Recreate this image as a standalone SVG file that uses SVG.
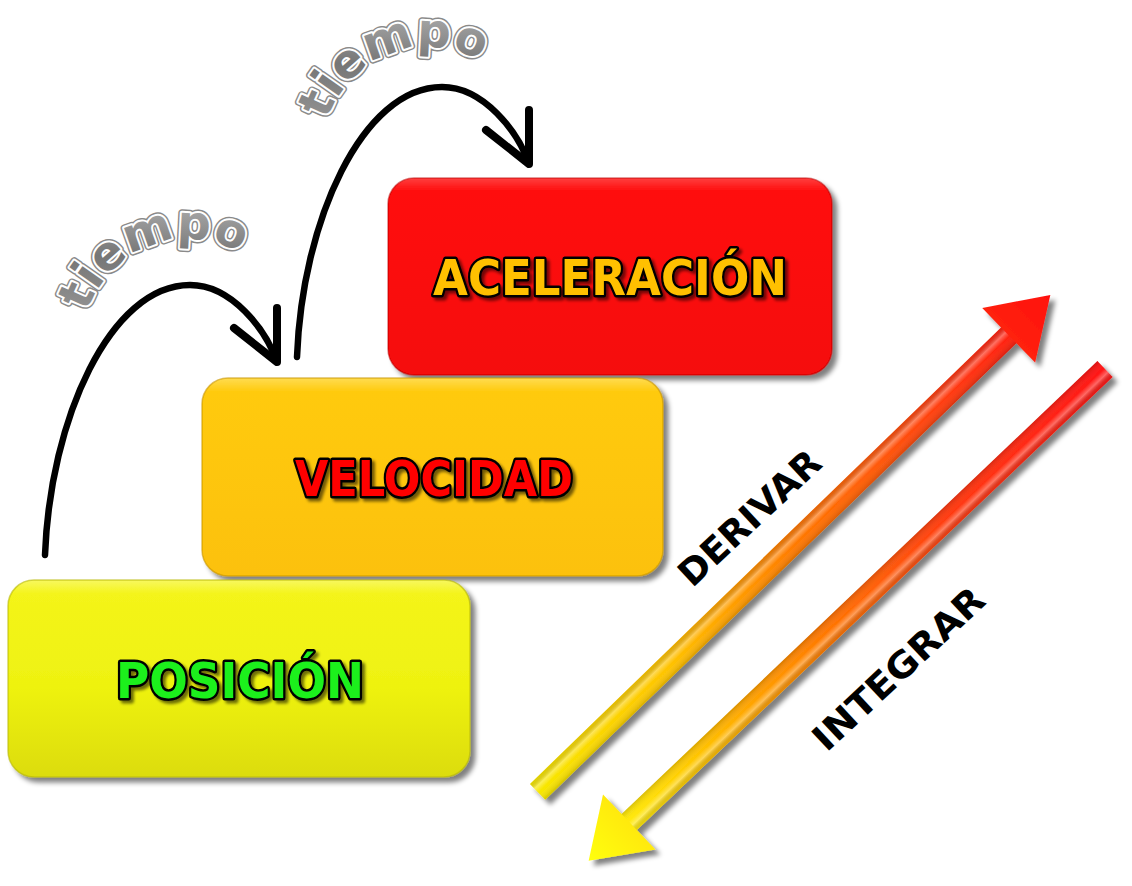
<svg xmlns="http://www.w3.org/2000/svg" width="1132" height="886" viewBox="0 0 1132 886">
<defs>
<style>
.box{stroke-width:1.5}
.lbl{font-family:"DejaVu Sans","Liberation Sans",sans-serif;font-weight:bold;font-size:50px;stroke:#000;stroke-width:5;stroke-linejoin:round;paint-order:stroke;text-anchor:middle}
.side{font-family:"DejaVu Sans","Liberation Sans",sans-serif;font-weight:bold;font-size:36px;fill:#000;text-anchor:middle}
.tie-o{font-family:"DejaVu Sans","Liberation Sans",sans-serif;font-weight:bold;font-size:47px;letter-spacing:0.5px;fill:none;stroke:#8a8a8a;stroke-width:7;stroke-linejoin:round}
.tie-i{font-family:"DejaVu Sans","Liberation Sans",sans-serif;font-weight:bold;font-size:47px;letter-spacing:0.5px;fill:url(#grayG);stroke:#fff;stroke-width:4;stroke-linejoin:round;paint-order:stroke}
.curve{fill:none;stroke:#000;stroke-width:6.5;stroke-linecap:round}
.head{fill:none;stroke:#000;stroke-width:8;stroke-linecap:round;stroke-linejoin:round}
</style>
<filter id="shadow" x="-10%" y="-10%" width="125%" height="130%">
<feGaussianBlur in="SourceAlpha" stdDeviation="2.5"/>
<feOffset dx="5" dy="5" result="o"/>
<feComponentTransfer><feFuncA type="linear" slope="0.5"/></feComponentTransfer>
<feMerge><feMergeNode/><feMergeNode in="SourceGraphic"/></feMerge>
</filter>
<filter id="tshadow" x="-10%" y="-20%" width="130%" height="150%">
<feGaussianBlur in="SourceAlpha" stdDeviation="1.5"/>
<feOffset dx="3" dy="3"/>
<feComponentTransfer><feFuncA type="linear" slope="0.55"/></feComponentTransfer>
<feMerge><feMergeNode/><feMergeNode in="SourceGraphic"/></feMerge>
</filter>
<linearGradient id="posG" x1="0" y1="0" x2="0" y2="1">
<stop offset="0" stop-color="#f8f860"/><stop offset="0.07" stop-color="#f4f41a"/><stop offset="0.55" stop-color="#eef210"/><stop offset="1" stop-color="#dcdc0e"/>
</linearGradient>
<linearGradient id="velG" x1="0" y1="0" x2="0" y2="1">
<stop offset="0" stop-color="#ffdc50"/><stop offset="0.07" stop-color="#ffca0c"/><stop offset="1" stop-color="#fcc108"/>
</linearGradient>
<linearGradient id="aceG" x1="0" y1="0" x2="0" y2="1">
<stop offset="0" stop-color="#ff4040"/><stop offset="0.07" stop-color="#ff0a0a"/><stop offset="1" stop-color="#f50808"/>
</linearGradient>
<linearGradient id="grayG" x1="0" y1="0" x2="0" y2="1">
<stop offset="0" stop-color="#b4b4b4"/><stop offset="0.5" stop-color="#767676"/><stop offset="1" stop-color="#959595"/>
</linearGradient>
<linearGradient id="derG" gradientUnits="userSpaceOnUse" x1="0" y1="0" x2="714" y2="0">
<stop offset="0" stop-color="#f8e800"/><stop offset="0.25" stop-color="#ffc400"/><stop offset="0.5" stop-color="#ff7a00"/><stop offset="0.8" stop-color="#ff3a10"/><stop offset="1" stop-color="#ff1010"/>
</linearGradient>
<linearGradient id="intG" gradientUnits="userSpaceOnUse" x1="0" y1="0" x2="713" y2="0">
<stop offset="0" stop-color="#ff1414"/><stop offset="0.3" stop-color="#ff3a10"/><stop offset="0.55" stop-color="#ff7a00"/><stop offset="0.8" stop-color="#ffc800"/><stop offset="1" stop-color="#ffff10"/>
</linearGradient>
<linearGradient id="cylG" gradientUnits="userSpaceOnUse" x1="0" y1="-11" x2="0" y2="11">
<stop offset="0" stop-color="#000" stop-opacity="0.08"/><stop offset="0.3" stop-color="#fff" stop-opacity="0.35"/><stop offset="0.55" stop-color="#fff" stop-opacity="0"/><stop offset="1" stop-color="#000" stop-opacity="0.15"/>
</linearGradient>
<path id="arcT1" d="M85.6 317.6 A106 106 0 0 1 256.1 263.8"/>
<path id="arcT2" d="M325.6 125.6 A106 106 0 0 1 496.1 71.8"/>
</defs>
<rect width="1132" height="886" fill="#fff"/>

<g id="node-aceleracion">
<rect class="box" x="388" y="178" width="444" height="197" rx="26" fill="url(#aceG)" stroke="#b80000" stroke-opacity="0.5" filter="url(#shadow)"/>
<text class="lbl" x="610" y="295" fill="#ffc000" textLength="354" lengthAdjust="spacingAndGlyphs" filter="url(#tshadow)">ACELERACIÓN</text>
</g>

<g id="node-velocidad">
<rect class="box" x="202" y="378" width="461" height="198" rx="26" fill="url(#velG)" stroke="#c89400" stroke-opacity="0.6" filter="url(#shadow)"/>
<text class="lbl" x="434" y="496" fill="#ff0000" textLength="278" lengthAdjust="spacingAndGlyphs" filter="url(#tshadow)">VELOCIDAD</text>
</g>

<g id="node-posicion">
<rect class="box" x="8" y="580" width="462" height="197" rx="26" fill="url(#posG)" stroke="#b8b800" stroke-opacity="0.6" filter="url(#shadow)"/>
<text class="lbl" x="240" y="698" fill="#1ef01e" textLength="248" lengthAdjust="spacingAndGlyphs" filter="url(#tshadow)">POSICIÓN</text>
</g>

<g id="connectors">
<g id="curve-1">
<path class="curve" d="M45 555 C50 420 110 285 190 285 C232 285 266 330 277 362"/>
<path class="head" d="M277 308 L277 362 L234 328"/>
</g>
<g id="curve-2" transform="translate(252,-198)">
<path class="curve" d="M45 555 C50 420 110 285 190 285 C232 285 266 330 277 362"/>
<path class="head" d="M277 308 L277 362 L234 328"/>
</g>
<g id="arrow-derivar" filter="url(#shadow)">
<g transform="translate(537.6,791.8) rotate(-44.1)">
<polygon points="0,-11 656,-11 656,-38 714,0 656,38 656,11 0,11" fill="url(#derG)"/>
<rect x="0" y="-11" width="656" height="22" fill="url(#cylG)"/>
</g>
</g>
<g id="arrow-integrar" filter="url(#shadow)">
<g transform="translate(1105,369) rotate(136.4)">
<polygon points="0,-11 657,-11 657,-38 713,0 657,38 657,11 0,11" fill="url(#intG)"/>
<rect x="0" y="-11" width="657" height="22" fill="url(#cylG)"/>
</g>
</g>
</g>

<g id="labels">
<g id="tiempo-1">
<text class="tie-o"><textPath href="#arcT1" startOffset="47%" text-anchor="middle">tiempo</textPath></text>
<text class="tie-i"><textPath href="#arcT1" startOffset="47%" text-anchor="middle">tiempo</textPath></text>
</g>
<g id="tiempo-2">
<text class="tie-o"><textPath href="#arcT2" startOffset="47%" text-anchor="middle">tiempo</textPath></text>
<text class="tie-i"><textPath href="#arcT2" startOffset="47%" text-anchor="middle">tiempo</textPath></text>
</g>
<text class="side" transform="translate(758,527) rotate(-43)" textLength="180" lengthAdjust="spacingAndGlyphs">DERIVAR</text>
<text class="side" transform="translate(907,678) rotate(-43)" textLength="220" lengthAdjust="spacingAndGlyphs">INTEGRAR</text>
</g>
</svg>
